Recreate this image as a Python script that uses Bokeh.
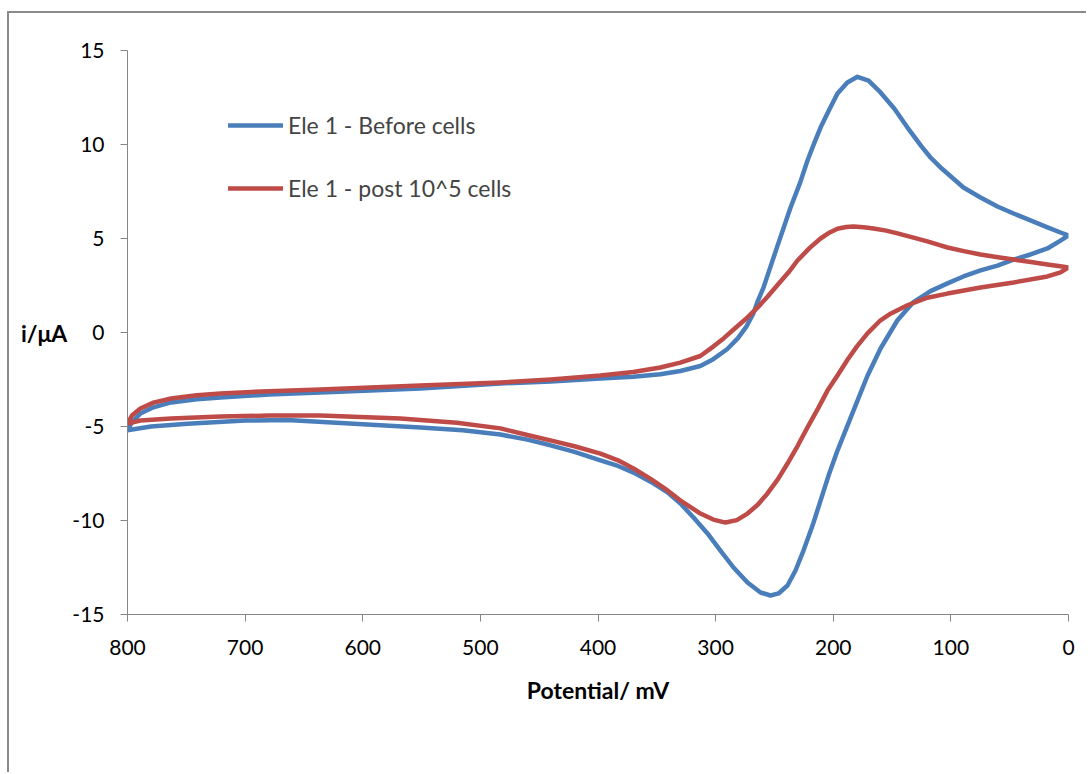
from bokeh.plotting import figure
from bokeh.models import Range1d, FixedTicker, Legend, LegendItem, ColumnDataSource
from bokeh.embed import file_html
from bokeh.resources import INLINE

# ---- data (potential mV, current µA) ----
# Ele 1 - Before cells: lower branch 0 -> 800 mV, then upper branch 800 -> 0 mV
blue_mv = [0, 6.8, 17.9, 32.3, 46.7, 60.4, 74.8, 89.3, 102.9, 117.3, 131.8, 145.4, 159.8, 170.9,
           179.4, 187.9, 196.4, 204, 210.8, 217.6, 225.3, 232.1, 238.9, 246.5, 253.3, 261.8, 272.9,
           284.8, 295.9, 306.9, 318.8, 329.9, 340.9, 355, 369.8, 383, 397.9, 420, 440.4, 460, 482.9,
           515, 551, 600, 664, 700, 749, 780, 800,
           796, 789, 778, 763, 741, 721, 680, 636, 551, 483, 440, 398, 370, 347, 330, 313, 302, 290,
           281, 274, 268, 264, 259.3, 248, 236.3, 228, 221.9, 216, 210.8, 203, 196.4, 188, 179.4,
           170, 159.8, 148, 136.9, 125, 117.3, 108.8, 102.9, 89.3, 74.8, 60.4, 46.7, 32.3, 17.9, 6.8, 0]
blue_ua = [5.16, 4.89, 4.47, 4.15, 3.88, 3.56, 3.30, 2.98, 2.61, 2.20, 1.62, 0.65, -0.85, -2.3,
           -3.62, -4.95, -6.28, -7.61, -8.94, -10.27, -11.6, -12.66, -13.46, -13.88, -13.99, -13.83, -13.30,
           -12.5, -11.6, -10.69, -9.84, -9.10, -8.5, -7.95, -7.45, -7.1, -6.8, -6.35, -6.0, -5.7, -5.43,
           -5.2, -5.05, -4.88, -4.66, -4.68, -4.86, -5.0, -5.2,
           -4.75, -4.31, -3.98, -3.72, -3.55, -3.46, -3.3, -3.19, -2.98, -2.71, -2.6, -2.45, -2.35, -2.22, -2.05, -1.78, -1.42, -0.88,
           -0.3, 0.3, 1.0, 1.7, 2.39, 4.5, 6.65, 8.0, 9.15, 10.1, 10.9, 11.9, 12.71, 13.3, 13.6,
           13.4, 12.77, 11.9, 10.9, 9.9, 9.31, 8.78, 8.46, 7.71, 7.18, 6.70, 6.33, 5.96, 5.59, 5.32, 5.16]

# Ele 1 - post 10^5 cells: upper branch 800 -> 0 mV, then lower branch 0 -> 800 mV
red_mv = [800, 796, 789, 778, 763, 741, 721, 680, 636, 551, 483, 440, 398, 370, 347, 330, 313, 302,
          293, 283, 272.9, 264, 255.9, 247, 238, 230.4, 220, 210.8, 203, 196.4, 189, 182.8, 174, 165.8,
          155, 145.4, 131.8, 120, 108.8, 102.9, 89, 74.8, 60, 46.7, 32, 17.9, 7, 0,
          6.8, 17.9, 46.7, 74.8, 102.9, 120, 136.9, 151.3, 159.8, 170.9, 180, 187.9, 196, 204.9, 213,
          221.9, 230, 238.9, 247, 255.9, 264, 272.9, 282, 291.6, 302, 312.9, 321, 329.9, 340.9, 355,
          369.8, 383, 397.9, 420, 440.4, 460, 482.9, 520, 567.9, 636, 680, 721, 763, 789, 800]
red_ua = [-4.84, -4.4, -4.04, -3.73, -3.51, -3.34, -3.24, -3.12, -3.03, -2.82, -2.66, -2.5, -2.29, -2.1, -1.86, -1.6, -1.25, -0.75,
          -0.3, 0.25, 0.8, 1.35, 1.9, 2.55, 3.2, 3.83, 4.5, 5.0, 5.32, 5.52, 5.61, 5.64, 5.6, 5.53,
          5.42, 5.27, 5.05, 4.85, 4.63, 4.52, 4.33, 4.15, 4.0, 3.88, 3.75, 3.62, 3.52, 3.46,
          3.2, 2.98, 2.66, 2.39, 2.07, 1.85, 1.45, 1.0, 0.65, -0.05, -0.75, -1.45, -2.25, -3.09, -4.05,
          -5.05, -6.0, -6.97, -7.8, -8.56, -9.15, -9.63, -9.98, -10.11, -9.95, -9.63, -9.3, -8.94, -8.4, -7.8,
          -7.23, -6.8, -6.44, -6.05, -5.74, -5.45, -5.1, -4.8, -4.57, -4.41, -4.42, -4.47, -4.57, -4.68, -4.84]

series_names = ["Ele 1 - Before cells", "Ele 1 - post 10^5 cells"]
x_ticks = [800, 700, 600, 500, 400, 300, 200, 100, 0]
y_ticks = [-15, -10, -5, 0, 5, 10, 15]

FONT = "Lato"
AXIS_COL = "#868686"

p = figure(width=1079, height=761, output_backend="svg", toolbar_location=None,
           x_range=Range1d(800, 0), y_range=Range1d(-15, 15),
           min_border_left=118, min_border_top=37, min_border_right=20, min_border_bottom=160)
p.margin = (11, 0, 0, 7)
p.styles = {"border-left": "2px solid #8a8a8a", "border-top": "2px solid #8a8a8a"}
p.outline_line_color = None
p.xgrid.visible = False
p.ygrid.visible = False
p.background_fill_color = "white"
p.border_fill_color = "white"

for ax in (p.xaxis[0], p.yaxis[0]):
    ax.axis_line_color = AXIS_COL
    ax.major_tick_line_color = AXIS_COL
    ax.minor_tick_line_color = None
    ax.major_tick_out = 7
    ax.major_tick_in = 0
    ax.major_label_text_font = FONT
    ax.major_label_text_font_size = "21px"
    ax.major_label_text_color = "black"
    ax.axis_label_text_font = FONT
    ax.axis_label_text_font_style = "bold"
    ax.axis_label_text_font_size = "23px"
    ax.axis_label_text_color = "black"

p.xaxis[0].ticker = FixedTicker(ticks=x_ticks)
p.yaxis[0].ticker = FixedTicker(ticks=y_ticks)
p.yaxis[0].major_label_overrides = {t: str(t) for t in y_ticks}
p.xaxis[0].major_label_overrides = {t: str(t) for t in x_ticks}
p.xaxis[0].major_label_standoff = 18
p.yaxis[0].major_label_standoff = 16
p.xaxis[0].axis_label = "Potential/ mV"
p.xaxis[0].axis_label_standoff = 18
p.yaxis[0].axis_label = "i/μA"
p.yaxis[0].axis_label_orientation = "horizontal"
p.yaxis[0].axis_label_standoff = 2

src_b = ColumnDataSource(dict(x=blue_mv, y=blue_ua))
src_r = ColumnDataSource(dict(x=red_mv, y=red_ua))
rb = p.line("x", "y", source=src_b, line_color="#4a7ebb", line_width=4.5, line_join="round", line_cap="round")
rr = p.line("x", "y", source=src_r, line_color="#be4b48", line_width=4.5, line_join="round", line_cap="round")

legend = Legend(items=[LegendItem(label=series_names[0], renderers=[rb]),
                       LegendItem(label=series_names[1], renderers=[rr])],
                location=(101, 412), orientation="vertical",
                glyph_width=55, glyph_height=24, label_height=24, spacing=35,
                label_standoff=5, padding=0, margin=0,
                label_text_font=FONT, label_text_font_size="23px",
                border_line_color=None, background_fill_alpha=0)
p.add_layout(legend, "center")

open("out.html", "w").write(file_html(p, INLINE))
